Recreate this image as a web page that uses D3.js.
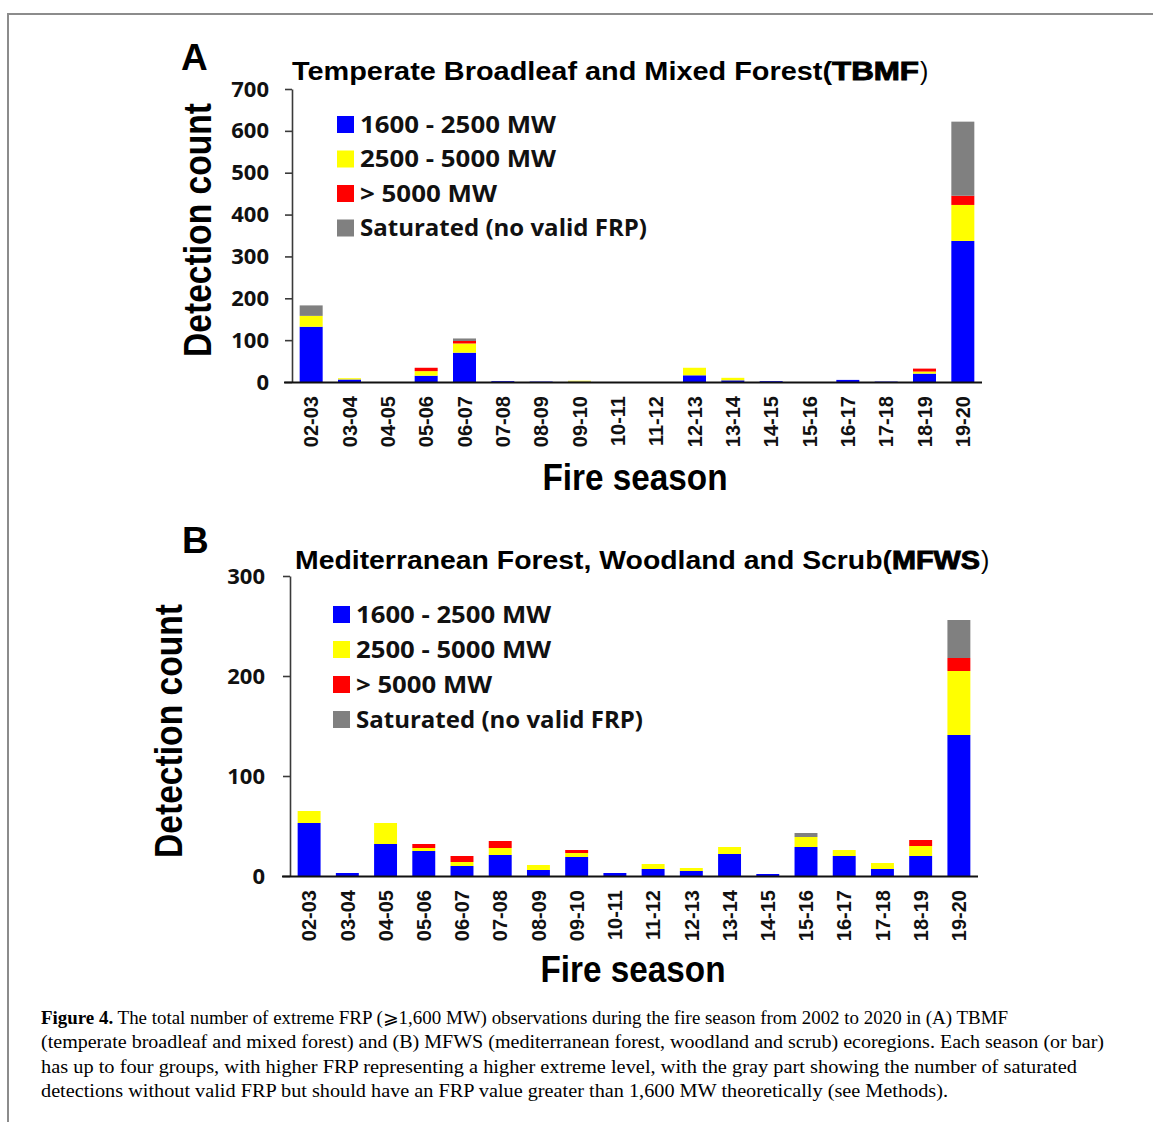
<!DOCTYPE html>
<html lang='en'>

<head>
   <meta charset='UTF-8'>
   <title>Figure 4 - extreme FRP detections</title>
   <script src='https://d3js.org/d3.v7.min.js'></script>
   <style>
      body {
         margin: 0;
         background: #fff;
      }

      svg {
         display: block;
      }

      .sans {
         font-family: 'Liberation Sans', Arial, sans-serif;
         font-weight: bold;
      }

      .calib {
         font-family: 'Open Sans', 'Noto Sans', sans-serif;
         font-weight: bold;
      }

      .caption {
         font-family: 'Liberation Serif', 'DejaVu Serif', serif;
         font-size: 18px;
      }
   </style>
</head>

<body>
   <div id='chart'></div>
   <script>
      // fire seasons on the x axis
      const seasons = ['02-03', '03-04', '04-05', '05-06', '06-07', '07-08', '08-09', '09-10', '10-11',
         '11-12', '12-13', '13-14', '14-15', '15-16', '16-17', '17-18', '18-19', '19-20'];

      // panel A - TBMF
      const tbmfBlue = [132, 6, 0, 15, 70, 2, 1, 1, 0, 0, 16, 4, 2, 0, 5, 1, 20, 337];
      const tbmfYellow = [26, 3, 0, 11, 22, 0, 0, 2, 0, 0, 18, 6, 0, 0, 0, 0, 5, 86];
      const tbmfRed = [0, 0, 0, 8, 6, 0, 0, 0, 0, 0, 0, 0, 0, 0, 0, 0, 7, 22];
      const tbmfGray = [25, 0, 0, 0, 6, 0, 0, 0, 0, 0, 0, 0, 0, 0, 0, 0, 0, 177];
      const tbmfTicks = [0, 100, 200, 300, 400, 500, 600, 700];

      // panel B - MFWS
      const mfwsBlue = [53, 3, 32, 25, 10, 21, 6, 19, 3, 7, 5, 22, 2, 29, 20, 7, 20, 141];
      const mfwsYellow = [12, 0, 21, 3, 4, 7, 5, 4, 0, 5, 3, 7, 0, 10, 6, 6, 10, 64];
      const mfwsRed = [0, 0, 0, 4, 6, 7, 0, 3, 0, 0, 0, 0, 0, 0, 0, 0, 6, 13];
      const mfwsGray = [0, 0, 0, 0, 0, 0, 0, 0, 0, 0, 0, 0, 0, 4, 0, 0, 0, 38];
      const mfwsTicks = [0, 100, 200, 300];

      const groupKeys = ['blue', 'yellow', 'red', 'gray'];
      const groupLabels = ['1600 - 2500 MW', '2500 - 5000 MW', '> 5000 MW', 'Saturated (no valid FRP)'];
      const groupColours = ['#0000ff', '#ffff00', '#ff0000', '#808080'];

      const captionLines = [
         ['Figure 4.', ' The total number of extreme FRP (\u2A7E1,600 MW) observations during the fire season from 2002 to 2020 in (A) TBMF'],
         ['', '(temperate broadleaf and mixed forest) and (B) MFWS (mediterranean forest, woodland and scrub) ecoregions. Each season (or bar)'],
         ['', 'has up to four groups, with higher FRP representing a higher extreme level, with the gray part showing the number of saturated'],
         ['', 'detections without valid FRP but should have an FRP value greater than 1,600 MW theoretically (see Methods).']
      ];

      const svg = d3.select('#chart').append('svg').attr('width', 1153).attr('height', 1122);
      svg.append('rect').attr('width', 1153).attr('height', 1122).attr('fill', '#fff');

      // page frame (top and left rule)
      svg.append('path').attr('d', 'M8,1122 V14 H1153').attr('fill', 'none')
         .attr('stroke', '#8c8c8c').attr('stroke-width', 2);

      const colour = d3.scaleOrdinal().domain(groupKeys).range(groupColours);

      function drawPanel(p) {
         const g = svg.append('g');
         const x = d3.scaleBand().domain(seasons).range([p.left, p.right]).paddingInner(0.4).paddingOuter(0.2);
         const y = d3.scaleLinear().domain([0, p.max]).range([p.bottom, p.top]);

         const rows = seasons.map((s, i) => ({
            season: s, blue: p.series[0][i], yellow: p.series[1][i], red: p.series[2][i], gray: p.series[3][i]
         }));
         const stacked = d3.stack().keys(groupKeys)(rows);

         g.append('g').selectAll('g').data(stacked).join('g')
            .attr('fill', d => colour(d.key))
            .selectAll('rect').data(d => d.filter(v => v[1] > v[0])).join('rect')
            .attr('x', d => x(d.data.season))
            .attr('width', x.bandwidth())
            .attr('y', d => y(d[1]))
            .attr('height', d => y(d[0]) - y(d[1]));

         // y axis
         const yAxis = g.append('g').attr('transform', `translate(${p.left},0)`)
            .call(d3.axisLeft(y).tickValues(p.ticks).tickSize(7).tickSizeOuter(0).tickPadding(p.tickPad));
         yAxis.select('.domain').attr('stroke', '#3a3a3a').attr('stroke-width', 1.6);
         yAxis.selectAll('.tick line').attr('stroke', '#3a3a3a').attr('stroke-width', 1.6);
         yAxis.selectAll('.tick text').attr('class', 'calib').style('font-size', '22px').attr('fill', '#111');

         // x axis, rotated season labels
         const xAxis = g.append('g').attr('transform', `translate(0,${p.bottom})`)
            .call(d3.axisBottom(x).tickSize(0).tickSizeOuter(0));
         xAxis.select('.domain').attr('stroke', '#111').attr('stroke-width', 2.2)
            .attr('d', `M${p.left - 8},0.5H${p.right}`);
         xAxis.selectAll('.tick text')
            .attr('class', 'sans')
            .style('font-size', '20px')
            .attr('fill', '#111')
            .attr('transform', 'rotate(-90)')
            .attr('text-anchor', 'end')
            .attr('x', -14).attr('y', 0).attr('dy', '0.36em');

         // panel letter
         g.append('text').attr('class', 'sans').attr('x', p.letterX).attr('y', p.letterY)
            .style('font-size', '37px').text(p.letter);

         // title: regular part, heavy acronym, closing bracket
         g.append('text').attr('class', 'sans').attr('x', p.titleX).attr('y', p.titleY)
            .style('font-size', '25px').attr('textLength', p.titleLen).attr('lengthAdjust', 'spacingAndGlyphs')
            .text(p.title);
         g.append('text').attr('class', 'sans').attr('x', p.titleX + p.titleLen).attr('y', p.titleY)
            .style('font-size', '25px').style('font-weight', 900)
            .attr('stroke', '#000').attr('stroke-width', 0.9)
            .attr('textLength', p.acroLen).attr('lengthAdjust', 'spacingAndGlyphs')
            .text(p.acronym);
         g.append('text').attr('x', p.titleX + p.titleLen + p.acroLen + 1).attr('y', p.titleY)
            .style('font-family', 'Liberation Sans, Arial, sans-serif').style('font-size', '25px')
            .text(')');

         // axis titles
         g.append('text').attr('class', 'sans')
            .attr('transform', `translate(${p.yLabelX},${p.yLabelY}) rotate(-90)`)
            .attr('text-anchor', 'middle')
            .style('font-size', '38px')
            .attr('textLength', 254).attr('lengthAdjust', 'spacingAndGlyphs')
            .text('Detection count');
         g.append('text').attr('class', 'sans')
            .attr('x', p.xLabelX).attr('y', p.xLabelY)
            .attr('text-anchor', 'middle')
            .style('font-size', '36px')
            .attr('textLength', 185).attr('lengthAdjust', 'spacingAndGlyphs')
            .text('Fire season');

         // legend
         const lg = g.append('g').selectAll('g').data(groupKeys).join('g')
            .attr('transform', (d, i) => `translate(${p.legX},${p.legY + i * p.legStep})`);
         lg.append('rect').attr('x', 0).attr('y', -8).attr('width', 17).attr('height', 17)
            .attr('fill', d => colour(d));
         lg.append('text').attr('class', 'calib')
            .attr('x', 23).attr('y', 0).attr('dy', '0.36em')
            .style('font-size', '24px').attr('fill', '#111')
            .attr('textLength', (d, i) => p.legLens[i]).attr('lengthAdjust', 'spacingAndGlyphs')
            .text((d, i) => groupLabels[i]);
      }

      drawPanel({
         series: [tbmfBlue, tbmfYellow, tbmfRed, tbmfGray], ticks: tbmfTicks, max: 700,
         left: 292, right: 982, top: 89, bottom: 382, tickPad: 16,
         letter: 'A', letterX: 181, letterY: 70,
         title: 'Temperate Broadleaf and Mixed Forest(', acronym: 'TBMF',
         titleX: 292, titleY: 80, titleLen: 540, acroLen: 87,
         yLabelX: 211, yLabelY: 230, xLabelX: 635, xLabelY: 490,
         legX: 337, legY: 124, legStep: 34.5, legLens: [196, 196, 137, 287]
      });

      drawPanel({
         series: [mfwsBlue, mfwsYellow, mfwsRed, mfwsGray], ticks: mfwsTicks, max: 300,
         left: 290, right: 978, top: 576, bottom: 876, tickPad: 18,
         letter: 'B', letterX: 182, letterY: 553,
         title: 'Mediterranean Forest, Woodland and Scrub(', acronym: 'MFWS',
         titleX: 295, titleY: 569, titleLen: 597, acroLen: 88,
         yLabelX: 182, yLabelY: 731, xLabelX: 633, xLabelY: 982,
         legX: 333, legY: 614, legStep: 35, legLens: [195, 195, 136, 287]
      });

      // caption
      const lineEnds = [1008, 1104, 1077, 948];
      const cap = svg.append('g').attr('class', 'caption');
      captionLines.forEach((line, i) => {
         const t = cap.append('text').attr('x', 41).attr('y', 1024 + i * 24.3)
            .attr('textLength', lineEnds[i] - 41).attr('lengthAdjust', 'spacingAndGlyphs');
         if (line[0]) t.append('tspan').style('font-weight', 'bold').text(line[0]);
         t.append('tspan').text(line[1]);
      });
   </script>
</body>

</html>
